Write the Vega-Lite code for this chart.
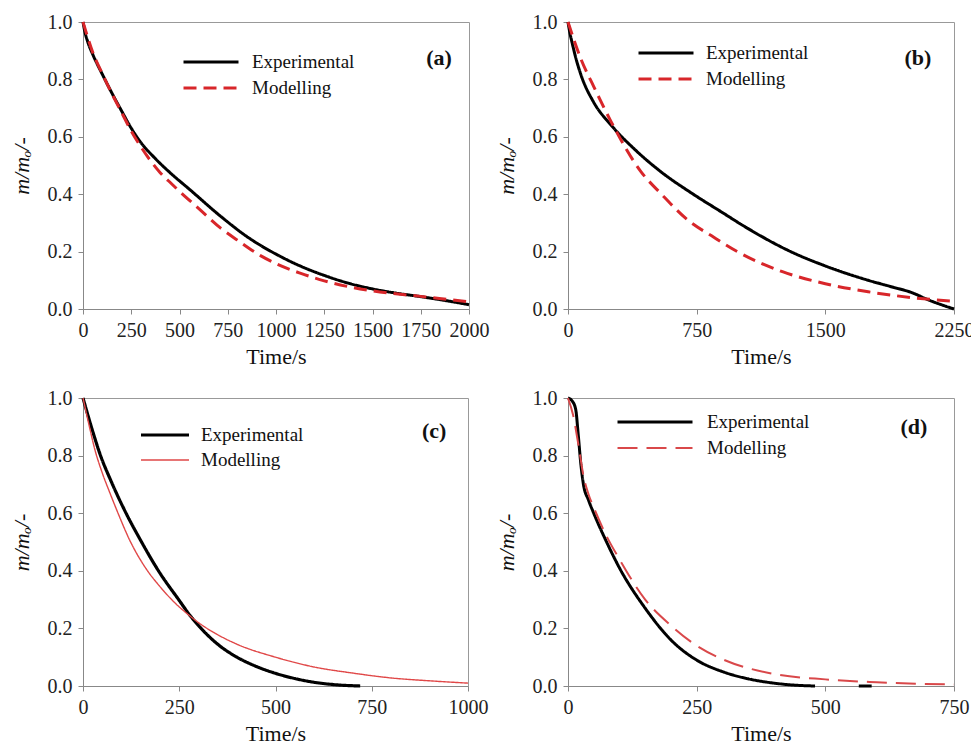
{
  "$schema": "https://vega.github.io/schema/vega-lite/v6.json",
  "padding": {"left": 9, "top": 11, "right": 0, "bottom": 0},
  "background": "white",
  "config": {
    "font": "Liberation Serif",
    "view": {"stroke": "#999", "strokeWidth": 1},
    "axis": {"grid": false, "domainColor": "#888", "tickColor": "#888", "tickSize": 5, "labelPadding": 6, "labelFont": "Liberation Serif", "labelFontSize": 20, "labelColor": "#222", "labelOverlap": false, "labelFlush": false, "titleFont": "Liberation Serif", "titleFontSize": 22, "titleFontWeight": "normal", "titleColor": "#111"},
    "axisX": {"titlePadding": 6},
    "axisY": {"titlePadding": 14},
    "legend": {"labelFont": "Liberation Serif", "labelFontSize": 19, "labelColor": "#111"},
    "line": {"interpolate": "monotone"}
  },
  "datasets": {
    "a": [
      {"t":0,"m":1.0,"series":"Experimental"},{"t":10,"m":0.965,"series":"Experimental"},{"t":25,"m":0.93,"series":"Experimental"},{"t":50,"m":0.888,"series":"Experimental"},{"t":100,"m":0.818,"series":"Experimental"},{"t":150,"m":0.752,"series":"Experimental"},{"t":200,"m":0.69,"series":"Experimental"},{"t":250,"m":0.63,"series":"Experimental"},{"t":300,"m":0.58,"series":"Experimental"},{"t":375,"m":0.524,"series":"Experimental"},{"t":456,"m":0.472,"series":"Experimental"},{"t":550,"m":0.418,"series":"Experimental"},{"t":715,"m":0.322,"series":"Experimental"},{"t":850,"m":0.252,"series":"Experimental"},{"t":1026,"m":0.182,"series":"Experimental"},{"t":1125,"m":0.15,"series":"Experimental"},{"t":1250,"m":0.117,"series":"Experimental"},{"t":1375,"m":0.09,"series":"Experimental"},{"t":1500,"m":0.07,"series":"Experimental"},{"t":1625,"m":0.055,"series":"Experimental"},{"t":1750,"m":0.043,"series":"Experimental"},{"t":1900,"m":0.027,"series":"Experimental"},{"t":2000,"m":0.015,"series":"Experimental"},
      {"t":0,"m":1.0,"series":"Modelling"},{"t":25,"m":0.945,"series":"Modelling"},{"t":50,"m":0.895,"series":"Modelling"},{"t":100,"m":0.82,"series":"Modelling"},{"t":150,"m":0.75,"series":"Modelling"},{"t":200,"m":0.685,"series":"Modelling"},{"t":250,"m":0.62,"series":"Modelling"},{"t":300,"m":0.565,"series":"Modelling"},{"t":400,"m":0.475,"series":"Modelling"},{"t":456,"m":0.438,"series":"Modelling"},{"t":500,"m":0.41,"series":"Modelling"},{"t":600,"m":0.35,"series":"Modelling"},{"t":715,"m":0.281,"series":"Modelling"},{"t":800,"m":0.24,"series":"Modelling"},{"t":922,"m":0.185,"series":"Modelling"},{"t":1000,"m":0.158,"series":"Modelling"},{"t":1125,"m":0.125,"series":"Modelling"},{"t":1250,"m":0.098,"series":"Modelling"},{"t":1375,"m":0.078,"series":"Modelling"},{"t":1500,"m":0.063,"series":"Modelling"},{"t":1750,"m":0.044,"series":"Modelling"},{"t":2000,"m":0.025,"series":"Modelling"}
    ],
    "b": [
      {"t":0,"m":1.0,"series":"Experimental"},{"t":10,"m":0.965,"series":"Experimental"},{"t":25,"m":0.925,"series":"Experimental"},{"t":50,"m":0.865,"series":"Experimental"},{"t":76,"m":0.815,"series":"Experimental"},{"t":150,"m":0.72,"series":"Experimental"},{"t":251,"m":0.641,"series":"Experimental"},{"t":400,"m":0.55,"series":"Experimental"},{"t":542,"m":0.478,"series":"Experimental"},{"t":730,"m":0.4,"series":"Experimental"},{"t":892,"m":0.339,"series":"Experimental"},{"t":1050,"m":0.28,"series":"Experimental"},{"t":1298,"m":0.2,"series":"Experimental"},{"t":1500,"m":0.15,"series":"Experimental"},{"t":1750,"m":0.1,"series":"Experimental"},{"t":1900,"m":0.075,"series":"Experimental"},{"t":2000,"m":0.058,"series":"Experimental"},{"t":2100,"m":0.032,"series":"Experimental"},{"t":2250,"m":0.0,"series":"Experimental"},
      {"t":0,"m":1.0,"series":"Modelling"},{"t":76,"m":0.87,"series":"Modelling"},{"t":150,"m":0.775,"series":"Modelling"},{"t":251,"m":0.653,"series":"Modelling"},{"t":426,"m":0.478,"series":"Modelling"},{"t":545,"m":0.4,"series":"Modelling"},{"t":698,"m":0.31,"series":"Modelling"},{"t":850,"m":0.25,"series":"Modelling"},{"t":987,"m":0.2,"series":"Modelling"},{"t":1250,"m":0.13,"series":"Modelling"},{"t":1500,"m":0.088,"series":"Modelling"},{"t":1750,"m":0.06,"series":"Modelling"},{"t":2000,"m":0.04,"series":"Modelling"},{"t":2250,"m":0.027,"series":"Modelling"}
    ],
    "c": [
      {"t":0,"m":1.0,"series":"Experimental"},{"t":25,"m":0.885,"series":"Experimental"},{"t":44,"m":0.806,"series":"Experimental"},{"t":75,"m":0.705,"series":"Experimental"},{"t":113,"m":0.597,"series":"Experimental"},{"t":150,"m":0.505,"series":"Experimental"},{"t":196,"m":0.4,"series":"Experimental"},{"t":250,"m":0.297,"series":"Experimental"},{"t":278,"m":0.245,"series":"Experimental"},{"t":300,"m":0.21,"series":"Experimental"},{"t":350,"m":0.145,"series":"Experimental"},{"t":400,"m":0.1,"series":"Experimental"},{"t":450,"m":0.068,"series":"Experimental"},{"t":500,"m":0.044,"series":"Experimental"},{"t":550,"m":0.026,"series":"Experimental"},{"t":600,"m":0.013,"series":"Experimental"},{"t":650,"m":0.005,"series":"Experimental"},{"t":720,"m":0.0,"series":"Experimental"},
      {"t":0,"m":1.0,"series":"Modelling"},{"t":15,"m":0.91,"series":"Modelling"},{"t":31,"m":0.82,"series":"Modelling"},{"t":50,"m":0.74,"series":"Modelling"},{"t":70,"m":0.67,"series":"Modelling"},{"t":91,"m":0.6,"series":"Modelling"},{"t":120,"m":0.51,"series":"Modelling"},{"t":165,"m":0.405,"series":"Modelling"},{"t":200,"m":0.345,"series":"Modelling"},{"t":240,"m":0.287,"series":"Modelling"},{"t":278,"m":0.243,"series":"Modelling"},{"t":300,"m":0.22,"series":"Modelling"},{"t":350,"m":0.178,"series":"Modelling"},{"t":400,"m":0.145,"series":"Modelling"},{"t":500,"m":0.1,"series":"Modelling"},{"t":600,"m":0.066,"series":"Modelling"},{"t":700,"m":0.045,"series":"Modelling"},{"t":800,"m":0.028,"series":"Modelling"},{"t":900,"m":0.018,"series":"Modelling"},{"t":1000,"m":0.01,"series":"Modelling"}
    ],
    "d": [
      {"t":0,"m":1.0,"series":"Experimental","seg":1},{"t":8,"m":0.99,"series":"Experimental","seg":1},{"t":15,"m":0.96,"series":"Experimental","seg":1},{"t":20,"m":0.87,"series":"Experimental","seg":1},{"t":25,"m":0.77,"series":"Experimental","seg":1},{"t":30,"m":0.7,"series":"Experimental","seg":1},{"t":40,"m":0.645,"series":"Experimental","seg":1},{"t":50,"m":0.6,"series":"Experimental","seg":1},{"t":75,"m":0.5,"series":"Experimental","seg":1},{"t":100,"m":0.41,"series":"Experimental","seg":1},{"t":150,"m":0.27,"series":"Experimental","seg":1},{"t":200,"m":0.16,"series":"Experimental","seg":1},{"t":250,"m":0.09,"series":"Experimental","seg":1},{"t":300,"m":0.05,"series":"Experimental","seg":1},{"t":350,"m":0.025,"series":"Experimental","seg":1},{"t":400,"m":0.01,"series":"Experimental","seg":1},{"t":440,"m":0.003,"series":"Experimental","seg":1},{"t":480,"m":0.0,"series":"Experimental","seg":1},
      {"t":565,"m":0.0,"series":"Experimental","seg":2},{"t":590,"m":0.0,"series":"Experimental","seg":2},
      {"t":0,"m":1.0,"series":"Modelling","seg":1},{"t":10,"m":0.94,"series":"Modelling","seg":1},{"t":20,"m":0.84,"series":"Modelling","seg":1},{"t":30,"m":0.73,"series":"Modelling","seg":1},{"t":40,"m":0.665,"series":"Modelling","seg":1},{"t":50,"m":0.62,"series":"Modelling","seg":1},{"t":75,"m":0.52,"series":"Modelling","seg":1},{"t":100,"m":0.44,"series":"Modelling","seg":1},{"t":150,"m":0.3,"series":"Modelling","seg":1},{"t":200,"m":0.21,"series":"Modelling","seg":1},{"t":250,"m":0.14,"series":"Modelling","seg":1},{"t":300,"m":0.093,"series":"Modelling","seg":1},{"t":400,"m":0.042,"series":"Modelling","seg":1},{"t":500,"m":0.023,"series":"Modelling","seg":1},{"t":600,"m":0.013,"series":"Modelling","seg":1},{"t":750,"m":0.005,"series":"Modelling","seg":1}
    ]
  },
  "resolve": {"scale": {"color": "independent", "strokeDash": "independent", "strokeWidth": "independent"}, "legend": {"color": "independent", "strokeDash": "independent", "strokeWidth": "independent"}},
  "columns": 2,
  "spacing": {"row": 89, "column": 99},
  "bounds": "flush",
  "concat": [
    {
      "width": 386, "height": 287,
      "layer": [
        {
          "data": {"name": "a"},
          "mark": {"type": "line"},
          "encoding": {
            "x": {"field": "t", "type": "quantitative", "scale": {"domain": [0, 2000], "nice": false}, "axis": {"values": [0,250,500,750,1000,1250,1500,1750,2000], "format": "d", "title": "Time/s"}},
            "y": {"field": "m", "type": "quantitative", "scale": {"domain": [0, 1], "nice": false}, "axis": {"values": [0,0.2,0.4,0.6,0.8,1.0], "format": ".1f", "title": "m/mₒ/-", "titleFontStyle": "italic"}},
            "color": {"field": "series", "type": "nominal", "scale": {"domain": ["Experimental","Modelling"], "range": ["#000000","#d8262a"]}, "legend": {"title": null, "orient": "none", "legendX": 99, "legendY": 30, "symbolType": "stroke", "symbolSize": 3025, "clipHeight": 20, "rowPadding": 6, "labelOffset": 12}},
            "strokeDash": {"field": "series", "type": "nominal", "scale": {"domain": ["Experimental","Modelling"], "range": [[1,0],[13,7]]}, "legend": {"title": null, "orient": "none", "legendX": 99, "legendY": 30, "symbolType": "stroke", "symbolSize": 3025, "clipHeight": 20, "rowPadding": 6, "labelOffset": 12}},
            "strokeWidth": {"field": "series", "type": "nominal", "scale": {"domain": ["Experimental","Modelling"], "range": [3,3]}, "legend": {"title": null, "orient": "none", "legendX": 99, "legendY": 30, "symbolType": "stroke", "symbolSize": 3025, "clipHeight": 20, "rowPadding": 6, "labelOffset": 12}}
          }
        },
        {
          "data": {"values": [{"t": 1845, "m": 0.875, "label": "(a)"}]},
          "mark": {"type": "text", "font": "Liberation Serif", "fontWeight": "bold", "fontSize": 22, "color": "#111"},
          "encoding": {"x": {"field": "t", "type": "quantitative"}, "y": {"field": "m", "type": "quantitative"}, "text": {"field": "label"}}
        }
      ]
    },
    {
      "width": 386, "height": 287,
      "layer": [
        {
          "data": {"name": "b"},
          "mark": {"type": "line"},
          "encoding": {
            "x": {"field": "t", "type": "quantitative", "scale": {"domain": [0, 2250], "nice": false}, "axis": {"values": [0,750,1500,2250], "format": "d", "title": "Time/s"}},
            "y": {"field": "m", "type": "quantitative", "scale": {"domain": [0, 1], "nice": false}, "axis": {"values": [0,0.2,0.4,0.6,0.8,1.0], "format": ".1f", "title": "m/mₒ/-", "titleFontStyle": "italic"}},
            "color": {"field": "series", "type": "nominal", "scale": {"domain": ["Experimental","Modelling"], "range": ["#000000","#d8262a"]}, "legend": {"title": null, "orient": "none", "legendX": 69, "legendY": 21, "symbolType": "stroke", "symbolSize": 3025, "clipHeight": 20, "rowPadding": 6, "labelOffset": 11}},
            "strokeDash": {"field": "series", "type": "nominal", "scale": {"domain": ["Experimental","Modelling"], "range": [[1,0],[13,7]]}, "legend": {"title": null, "orient": "none", "legendX": 69, "legendY": 21, "symbolType": "stroke", "symbolSize": 3025, "clipHeight": 20, "rowPadding": 6, "labelOffset": 11}},
            "strokeWidth": {"field": "series", "type": "nominal", "scale": {"domain": ["Experimental","Modelling"], "range": [3,3]}, "legend": {"title": null, "orient": "none", "legendX": 69, "legendY": 21, "symbolType": "stroke", "symbolSize": 3025, "clipHeight": 20, "rowPadding": 6, "labelOffset": 11}}
          }
        },
        {
          "data": {"values": [{"t": 2040, "m": 0.875, "label": "(b)"}]},
          "mark": {"type": "text", "font": "Liberation Serif", "fontWeight": "bold", "fontSize": 22, "color": "#111"},
          "encoding": {"x": {"field": "t", "type": "quantitative"}, "y": {"field": "m", "type": "quantitative"}, "text": {"field": "label"}}
        }
      ]
    },
    {
      "width": 385, "height": 288,
      "layer": [
        {
          "data": {"name": "c"},
          "mark": {"type": "line"},
          "encoding": {
            "x": {"field": "t", "type": "quantitative", "scale": {"domain": [0, 1000], "nice": false}, "axis": {"values": [0,250,500,750,1000], "format": "d", "title": "Time/s"}},
            "y": {"field": "m", "type": "quantitative", "scale": {"domain": [0, 1], "nice": false}, "axis": {"values": [0,0.2,0.4,0.6,0.8,1.0], "format": ".1f", "title": "m/mₒ/-", "titleFontStyle": "italic"}},
            "color": {"field": "series", "type": "nominal", "scale": {"domain": ["Experimental","Modelling"], "range": ["#000000","#e04848"]}, "legend": {"title": null, "orient": "none", "legendX": 56, "legendY": 27, "symbolType": "stroke", "symbolSize": 2304, "clipHeight": 20, "rowPadding": 5, "labelOffset": 10}},
            "strokeDash": {"field": "series", "type": "nominal", "scale": {"domain": ["Experimental","Modelling"], "range": [[1,0],[1,0]]}, "legend": {"title": null, "orient": "none", "legendX": 56, "legendY": 27, "symbolType": "stroke", "symbolSize": 2304, "clipHeight": 20, "rowPadding": 5, "labelOffset": 10}},
            "strokeWidth": {"field": "series", "type": "nominal", "scale": {"domain": ["Experimental","Modelling"], "range": [3.2,1.4]}, "legend": {"title": null, "orient": "none", "legendX": 56, "legendY": 27, "symbolType": "stroke", "symbolSize": 2304, "clipHeight": 20, "rowPadding": 5, "labelOffset": 10}}
          }
        },
        {
          "data": {"values": [{"t": 912, "m": 0.885, "label": "(c)"}]},
          "mark": {"type": "text", "font": "Liberation Serif", "fontWeight": "bold", "fontSize": 22, "color": "#111"},
          "encoding": {"x": {"field": "t", "type": "quantitative"}, "y": {"field": "m", "type": "quantitative"}, "text": {"field": "label"}}
        }
      ]
    },
    {
      "width": 386, "height": 288,
      "layer": [
        {
          "data": {"name": "d"},
          "mark": {"type": "line"},
          "encoding": {
            "x": {"field": "t", "type": "quantitative", "scale": {"domain": [0, 750], "nice": false}, "axis": {"values": [0,250,500,750], "format": "d", "title": "Time/s"}},
            "y": {"field": "m", "type": "quantitative", "scale": {"domain": [0, 1], "nice": false}, "axis": {"values": [0,0.2,0.4,0.6,0.8,1.0], "format": ".1f", "title": "m/mₒ/-", "titleFontStyle": "italic"}},
            "color": {"field": "series", "type": "nominal", "scale": {"domain": ["Experimental","Modelling"], "range": ["#000000","#d9484a"]}, "legend": {"title": null, "orient": "none", "legendX": 48, "legendY": 14, "symbolType": "stroke", "symbolSize": 5625, "clipHeight": 20, "rowPadding": 6, "labelOffset": 13}},
            "strokeDash": {"field": "series", "type": "nominal", "scale": {"domain": ["Experimental","Modelling"], "range": [[1,0],[20,9]]}, "legend": {"title": null, "orient": "none", "legendX": 48, "legendY": 14, "symbolType": "stroke", "symbolSize": 5625, "clipHeight": 20, "rowPadding": 6, "labelOffset": 13}},
            "strokeWidth": {"field": "series", "type": "nominal", "scale": {"domain": ["Experimental","Modelling"], "range": [3,2]}, "legend": {"title": null, "orient": "none", "legendX": 48, "legendY": 14, "symbolType": "stroke", "symbolSize": 5625, "clipHeight": 20, "rowPadding": 6, "labelOffset": 13}},
            "detail": {"field": "seg", "type": "nominal"}
          }
        },
        {
          "data": {"values": [{"t": 672, "m": 0.9, "label": "(d)"}]},
          "mark": {"type": "text", "font": "Liberation Serif", "fontWeight": "bold", "fontSize": 22, "color": "#111"},
          "encoding": {"x": {"field": "t", "type": "quantitative"}, "y": {"field": "m", "type": "quantitative"}, "text": {"field": "label"}}
        }
      ]
    }
  ]
}
